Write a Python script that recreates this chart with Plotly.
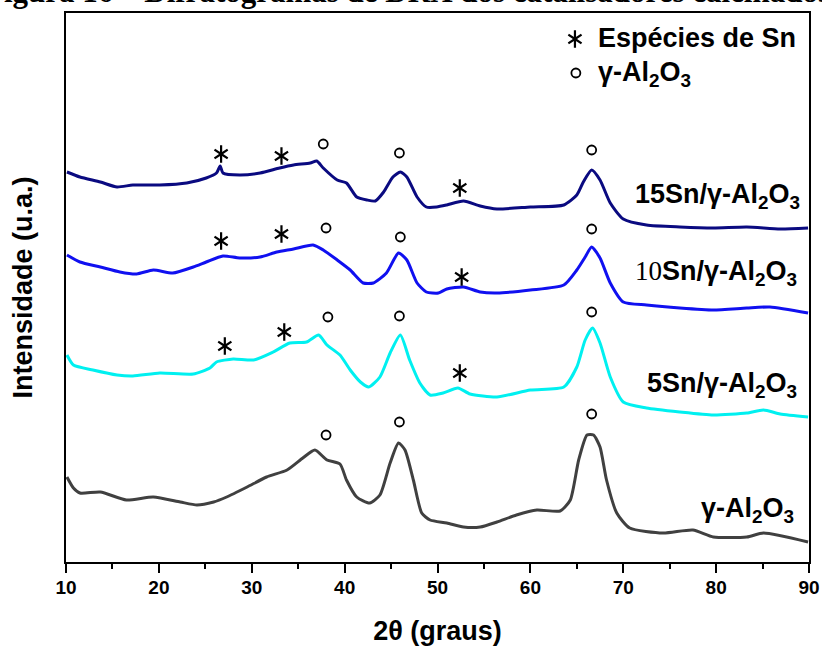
import plotly.graph_objects as go

# ---- data (2θ in degrees, intensity in arbitrary units, curves already offset) ----
x_15 = [10.1, 11.5, 13.7, 15.5, 17.2, 20.1, 23.0, 25.1, 26.2, 26.6, 26.9, 28.7, 30.9, 33.0, 34.5, 36.3, 37.0, 37.7,
        39.2, 40.2, 41.3, 42.4, 43.3, 44.2, 45.2, 46.0, 46.7, 47.8, 48.8, 49.9, 51.0, 52.8, 54.6, 56.4, 60.0, 63.6,
        65.0, 65.7, 66.6, 67.5, 68.6, 70.0, 72.5, 76.1, 79.7, 83.3, 86.9, 89.9]
y_15 = [390, 385, 380, 375, 377, 377, 379, 384, 389, 396, 389, 387, 389, 394, 397, 399, 401, 394,
        382, 379, 365, 362, 361, 370, 385, 390, 385, 365, 355, 355, 357, 361, 356, 353, 355, 357,
        367, 380, 392, 382, 359, 343, 337, 335, 334, 335, 333, 334]

x_10 = [10.1, 11.5, 13.7, 15.8, 17.6, 19.4, 21.5, 23.7, 25.1, 26.9, 28.7, 30.9, 32.7, 34.5, 36.6, 37.7, 39.2, 40.6,
        42.0, 43.1, 44.5, 45.8, 46.7, 47.8, 48.8, 50.1, 51.0, 52.8, 54.6, 56.4, 60.0, 63.6, 65.0, 65.9, 66.6, 67.5,
        68.6, 70.0, 72.5, 76.1, 79.7, 83.3, 85.8, 89.9]
y_10 = [307, 300, 295, 290, 288, 292, 289, 295, 300, 306, 304, 305, 310, 313, 317, 312, 302, 292,
        279, 279, 289, 309, 302, 279, 270, 269, 273, 275, 270, 269, 272, 277, 292, 305, 315, 304,
        279, 260, 257, 254, 252, 254, 255, 249]

x_5 = [10.1, 10.8, 12.9, 15.5, 17.2, 20.1, 23.7, 25.5, 26.2, 28.0, 30.2, 32.3, 34.1, 35.9, 37.2, 38.1, 39.5, 40.6,
       41.7, 42.6, 43.8, 44.9, 46.0, 47.0, 48.1, 49.2, 50.6, 52.2, 53.5, 56.4, 60.0, 63.6, 65.0, 65.9, 66.7, 67.5,
       68.6, 70.0, 72.5, 76.1, 79.7, 83.3, 85.1, 86.9, 89.9]
y_5 = [207, 197, 192, 187, 186, 189, 188, 194, 200, 203, 202, 210, 219, 220, 227, 217, 207, 192,
       180, 175, 185, 209, 227, 202, 179, 167, 169, 174, 168, 165, 172, 175, 195, 222, 234, 219,
       185, 160, 154, 150, 147, 149, 152, 148, 145]

x_al = [10.1, 10.8, 11.5, 13.7, 16.5, 19.4, 22.3, 24.1, 25.9, 27.3, 29.5, 31.6, 33.8, 35.5, 36.8, 38.1, 39.5, 40.2,
        41.3, 42.7, 43.8, 44.9, 45.8, 46.5, 47.4, 48.3, 49.2, 51.0, 52.8, 54.6, 56.4, 58.5, 60.7, 63.2, 64.3, 65.2,
        66.1, 66.8, 67.5, 68.2, 69.3, 70.7, 74.3, 77.5, 79.7, 83.3, 85.1, 89.9]
y_al = [85, 74, 69, 70, 62, 65, 60, 57, 60, 65, 75, 85, 92, 104, 112, 102, 98, 82,
        65, 59, 67, 99, 119, 112, 82, 49, 42, 39, 35, 35, 40, 47, 52, 51, 62, 102,
        127, 127, 115, 82, 49, 34, 29, 32, 25, 25, 29, 20]

series_names = ["15Sn/γ-Al2O3", "10Sn/γ-Al2O3", "5Sn/γ-Al2O3", "γ-Al2O3"]
series_colors = ["#0a0a80", "#1010f0", "#00f0f0", "#404040"]

# phase markers: Sn species (*) and γ-Al2O3 (o)
star_x = [26.7, 33.2, 52.4, 26.7, 33.2, 52.6, 27.1, 33.5, 52.4]
star_y = [408, 406, 374, 321, 328, 285, 216, 230, 189]
circ_x = [37.7, 45.9, 66.6, 38.0, 46.0, 66.6, 38.2, 45.9, 66.6, 38.0, 45.9, 66.6]
circ_y = [418, 409, 412, 334, 325, 333, 245, 246, 250, 127, 140, 148]

x_ticks = [10, 20, 30, 40, 50, 60, 70, 80, 90]

FONT = "Arial, Liberation Sans, sans-serif"
SERIF = "Liberation Serif, Times New Roman, serif"

fig = go.Figure()
for xs, ys, name, col in zip([x_15, x_10, x_5, x_al], [y_15, y_10, y_5, y_al], series_names, series_colors):
    fig.add_trace(go.Scatter(x=xs, y=ys, mode="lines", name=name,
                             line=dict(color=col, width=3, shape="spline", smoothing=0.6),
                             showlegend=False))

# asterisks (6-arm) built from two overlaid Y markers
for sym in ["y-up-open", "y-down-open"]:
    fig.add_trace(go.Scatter(x=star_x + [64.8], y=star_y + [523], mode="markers", showlegend=False,
                             marker=dict(symbol=sym, size=11, color="black",
                                         line=dict(color="black", width=2.2))))
fig.add_trace(go.Scatter(x=circ_x + [64.9], y=circ_y + [489], mode="markers", showlegend=False,
                         marker=dict(symbol="circle-open", size=9, color="black",
                                     line=dict(color="black", width=1.8))))

LBL = 27
annotations = [
    dict(x=67.1, y=524, xref="x", yref="y", xanchor="left", yanchor="middle", showarrow=False,
         text="<b>Espécies de Sn</b>", font=dict(family=FONT, size=LBL, color="black")),
    dict(x=67.1, y=488, xref="x", yref="y", xanchor="left", yanchor="middle", showarrow=False,
         text="<b>γ-Al<sub>2</sub>O<sub>3</sub></b>", font=dict(family=FONT, size=LBL, color="black")),
    dict(x=89.2, y=366, xref="x", yref="y", xanchor="right", yanchor="middle", showarrow=False,
         text="<b>15Sn/γ-Al<sub>2</sub>O<sub>3</sub></b>", font=dict(family=FONT, size=LBL, color="black")),
    dict(x=88.9, y=289, xref="x", yref="y", xanchor="right", yanchor="middle", showarrow=False,
         text="<span style='font-family:Liberation Serif, Times New Roman, serif'>10</span><b>Sn/γ-Al<sub>2</sub>O<sub>3</sub></b>",
         font=dict(family=FONT, size=LBL, color="black")),
    dict(x=88.9, y=177, xref="x", yref="y", xanchor="right", yanchor="middle", showarrow=False,
         text="<b>5Sn/γ-Al<sub>2</sub>O<sub>3</sub></b>", font=dict(family=FONT, size=LBL, color="black")),
    dict(x=88.6, y=52, xref="x", yref="y", xanchor="right", yanchor="middle", showarrow=False,
         text="<b>γ-Al<sub>2</sub>O<sub>3</sub></b>", font=dict(family=FONT, size=LBL, color="black")),
    # caption of the figure, cut off at the top of the image
    dict(x=0, y=1, xref="paper", yref="paper", xanchor="left", yanchor="bottom",
         xshift=-83, yshift=2, showarrow=False,
         text="<b>Figura 16 – Difratogramas de DRX dos catalisadores calcinados</b>",
         font=dict(family=SERIF, size=31, color="black")),
]

fig.update_layout(
    width=822, height=647,
    margin=dict(l=66, r=13, t=13, b=85, autoexpand=False),
    paper_bgcolor="white", plot_bgcolor="white",
    annotations=annotations,
    xaxis=dict(range=[10, 90], tickvals=x_ticks, ticktext=[str(v) for v in x_ticks],
               automargin=False,
               showgrid=False, zeroline=False, showline=True, linecolor="black", linewidth=2,
               mirror=True, ticks="outside", ticklen=9, tickwidth=2, tickcolor="black",
               ticklabelstandoff=-2,
               minor=dict(dtick=5, ticks="outside", ticklen=5, tickwidth=2, tickcolor="black"),
               tickfont=dict(family=FONT, size=19, color="black", weight="bold"),
               title=dict(text="<b>2θ (graus)</b>", font=dict(family=FONT, size=27, color="black"),
                          standoff=24)),
    yaxis=dict(range=[0, 549], showticklabels=False, ticks="", showgrid=False, zeroline=False,
               automargin=False,
               showline=True, linecolor="black", linewidth=2, mirror=True,
               title=dict(text="<b>Intensidade (u.a.)</b>", font=dict(family=FONT, size=27, color="black"),
                          standoff=24)),
)

fig.write_html("out.html")
